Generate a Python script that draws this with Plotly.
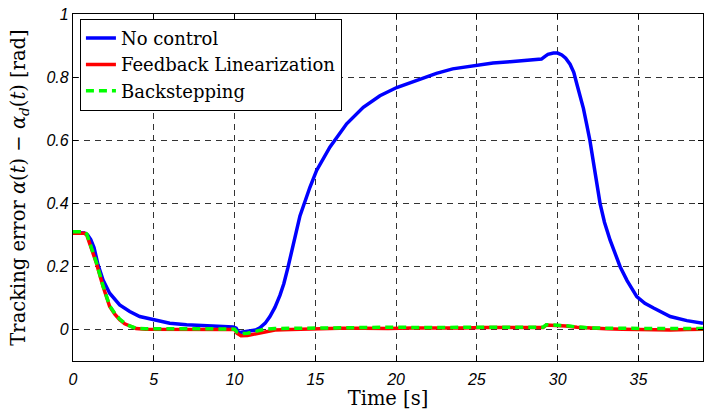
import plotly.graph_objects as go

# ---- data ----
t_nc = [0, 0.7, 0.9, 1.1, 1.3, 1.55, 1.86, 2.27, 2.89, 3.51, 4.13, 4.96, 5.99, 7.03, 8.05, 9.0, 9.91,
        10.1, 10.25, 10.5, 10.74, 11.0, 11.3, 11.57, 11.9, 12.19, 12.5, 12.81, 13.05, 13.3, 13.6,
        14.05, 14.66, 15.08, 15.9, 16.94, 17.97, 19.0, 20.04, 21.0, 21.9, 22.5, 23.5, 25.0, 26.0,
        27.06, 28.0, 29.0, 29.2, 29.4, 29.74, 30.0, 30.26, 30.5, 30.77, 31.0, 31.19, 31.4, 31.6,
        31.8, 32.0, 32.33, 32.63, 32.9, 33.25, 33.87, 34.3, 34.9, 35.4, 35.94, 36.5, 36.97, 38.0,
        39.0]
v_nc = [0.307, 0.306, 0.300, 0.285, 0.26, 0.205, 0.157, 0.115, 0.078, 0.057, 0.041, 0.031, 0.02,
        0.015, 0.012, 0.010, 0.008, 0.004, -0.010, -0.008, -0.006, -0.005, -0.002, 0.005, 0.02,
        0.041, 0.07, 0.108, 0.145, 0.195, 0.265, 0.36, 0.45, 0.504, 0.578, 0.652, 0.704, 0.741,
        0.767, 0.785, 0.80, 0.812, 0.826, 0.839, 0.845, 0.849, 0.853, 0.857, 0.865, 0.872, 0.876,
        0.876, 0.870, 0.86, 0.841, 0.815, 0.778, 0.74, 0.70, 0.65, 0.599, 0.494, 0.399, 0.34,
        0.283, 0.199, 0.155, 0.104, 0.083, 0.068, 0.052, 0.041, 0.028, 0.020]

t_ctrl = [0, 0.7, 0.85, 1.03, 1.45, 1.86, 2.27, 2.6, 2.89, 3.2, 3.51, 3.9, 4.5, 5.5, 6.5, 7.5, 8.5,
          9.5, 10.0, 10.15, 10.4, 10.8, 11.3, 11.8, 12.5, 13.5, 14.5, 15.5, 16.5, 18, 19.5, 21,
          22.5, 24, 25.5, 27, 28.5, 29.1, 29.3, 29.8, 30.5, 31.2, 32, 33, 34, 35, 36, 37, 38, 39]
v_fl = [0.305, 0.305, 0.30, 0.273, 0.21, 0.136, 0.073, 0.048, 0.031, 0.018, 0.01, 0.003, 0.001,
        0.001, 0.0, 0.001, 0.001, 0.0, 0.0, -0.012, -0.02, -0.019, -0.014, -0.008, -0.002, 0.0,
        0.002, 0.003, 0.004, 0.004, 0.003, 0.005, 0.004, 0.005, 0.006, 0.005, 0.005, 0.006, 0.014,
        0.013, 0.011, 0.007, 0.004, 0.002, 0.001, 0.0, 0.0, -0.002, 0.0, 0.001]
v_bs = [0.31, 0.31, 0.303, 0.275, 0.212, 0.138, 0.075, 0.05, 0.033, 0.02, 0.011, 0.004, 0.002,
        0.002, 0.001, 0.002, 0.002, 0.001, 0.001, -0.008, -0.013, -0.012, -0.006, 0.0, 0.003,
        0.004, 0.004, 0.005, 0.006, 0.006, 0.007, 0.006, 0.006, 0.007, 0.007, 0.006, 0.006, 0.007,
        0.015, 0.014, 0.012, 0.008, 0.005, 0.004, 0.003, 0.002, 0.003, 0.003, 0.003, 0.003]

x_ticks = [0, 5, 10, 15, 20, 25, 30, 35]
y_ticks = [0, 0.2, 0.4, 0.6, 0.8, 1]
y_tick_text = ["0", "0.2", "0.4", "0.6", "0.8", "1"]

names = ["No control", "Feedback Linearization", "Backstepping"]

fig = go.Figure()
fig.add_trace(go.Scatter(x=t_nc, y=v_nc, mode="lines", name=names[0],
                         line=dict(color="#0000ff", width=3.5)))
fig.add_trace(go.Scatter(x=t_ctrl, y=v_fl, mode="lines", name=names[1],
                         line=dict(color="#ff0000", width=3.5)))
fig.add_trace(go.Scatter(x=t_ctrl, y=v_bs, mode="lines", name=names[2],
                         line=dict(color="#00ff00", width=3.5, dash="8px,5px")))

serif = "DejaVu Serif, Liberation Serif, serif"
sans = "Liberation Sans, Arial, sans-serif"

axis_common = dict(
    showgrid=True, gridcolor="#333333", gridwidth=1, griddash="6px,5px",
    showline=True, linecolor="black", linewidth=1.2, mirror="ticks",
    ticks="inside", ticklen=5, tickcolor="black",
    tickfont=dict(family=sans, size=16, color="black", style="italic"),
    zeroline=False, automargin=False,
)

fig.update_xaxes(range=[0, 39], tickvals=x_ticks, ticklabelstandoff=4,
                 title=dict(text="Time [s]", font=dict(family=serif, size=19.5, color="black")),
                 **axis_common)
fig.update_yaxes(range=[-0.1, 1], tickvals=y_ticks, ticktext=y_tick_text,
                 title=dict(text="Tracking error <i>α</i>(<i>t</i>) − <i>α</i><sub><i>d</i></sub>(<i>t</i>) [rad]",
                            font=dict(family=serif, size=19.5, color="black")),
                 **axis_common)

fig.update_layout(
    width=710, height=410,
    margin=dict(l=73, r=7, t=14, b=49),
    paper_bgcolor="white", plot_bgcolor="white",
    showlegend=True,
    legend=dict(x=0.011, y=0.986, xanchor="left", yanchor="top",
                bgcolor="white", bordercolor="black", borderwidth=1,
                font=dict(family=serif, size=18, color="black"),
                tracegroupgap=0, itemwidth=30),
)

fig.write_html("out.html", config={"displayModeBar": False},
               post_script="document.body.style.margin='0';document.body.style.padding='0';")
